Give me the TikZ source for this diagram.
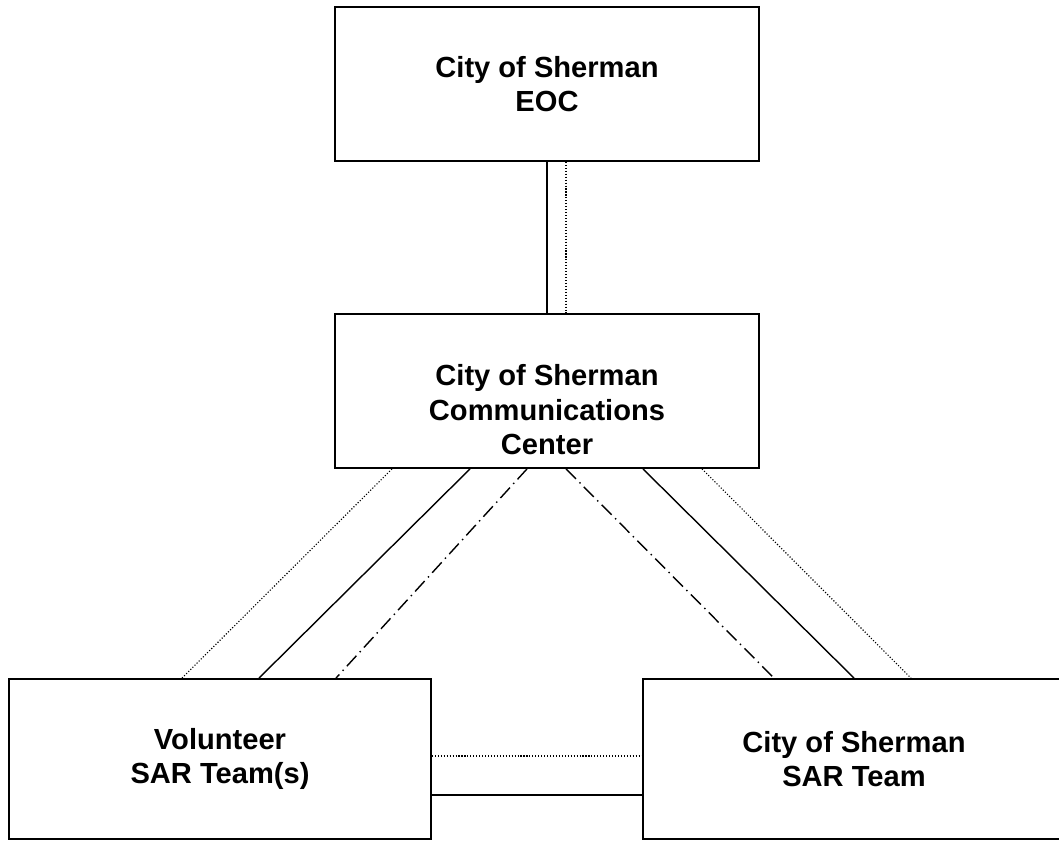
\documentclass[tikz,border=0pt]{standalone}
\usepackage{fontspec}
\setmainfont{Liberation Sans}
\usepackage{tikz}
\tikzset{
    boxtext/.style={font=\fontsize{20.7}{24.6}\selectfont\bfseries,align=center},
    orgbox/.style={boxtext,draw=black,fill=white,line width=1.3pt,
      minimum width=10.6cm,minimum height=3.85cm,inner sep=2pt},
    teambox/.style={orgbox,minimum width=10.55cm,minimum height=4cm},
    plainlink/.style={draw=black,line width=1pt},
    dotlink/.style={draw=black,line width=0.8pt,dash pattern=on 0.8pt off 1.3pt},
    dashdotlink/.style={draw=black,line width=1pt,
      dash pattern=on 10pt off 3.5pt on 1pt off 3.5pt}
}
\begin{document}
\begin{tikzpicture}
  \useasboundingbox (0,0) rectangle (26.475,21);
  \node[orgbox] (eoc) at (13.675,18.9) {City of Sherman\\EOC};
  \node[orgbox] (comm) at (13.675,11.225) {};
  \node[boxtext] (commtext) at ([yshift=-4.75mm]comm.center)
    {City of Sherman\\Communications\\Center};
  \node[teambox] (vol) at (5.5,2.025) {Volunteer\\SAR Team(s)};
  % this one runs off the right edge of the page
  \node[teambox,minimum width=11.2cm,text width=10cm] (city) at (21.675,2.025) {};
  \node[boxtext] (citytext) at ([xshift=-3.25mm]city.center) {City of Sherman\\SAR Team};
  % EOC down to the communications center
  \draw[plainlink] (eoc.south) -- (comm.north);
  \draw[dotlink] ([xshift=4.75mm]eoc.south) -- ([xshift=4.75mm]comm.north);
  % communications center to the volunteer teams
  \draw[dotlink] ([xshift=-38.75mm]comm.south) -- ([xshift=-9.5mm]vol.north);
  \draw[plainlink] ([xshift=-19.25mm]comm.south) -- ([xshift=9.75mm]vol.north);
  \draw[dashdotlink] ([xshift=-5mm]comm.south) -- ([xshift=29mm]vol.north);
  % communications center to the city team
  \draw[dashdotlink] ([xshift=4.75mm]comm.south) -- ([xshift=-23.25mm]city.north);
  \draw[plainlink] ([xshift=24mm]comm.south) -- ([xshift=-3.25mm]city.north);
  \draw[dotlink] ([xshift=38.75mm]comm.south) -- ([xshift=11mm]city.north);
  % between the two teams
  \draw[dotlink] ([yshift=0.75mm]vol.east) -- ([yshift=0.75mm]city.west);
  \draw[plainlink] ([yshift=-9mm]vol.east) -- ([yshift=-9mm]city.west);
\end{tikzpicture}
\end{document}
